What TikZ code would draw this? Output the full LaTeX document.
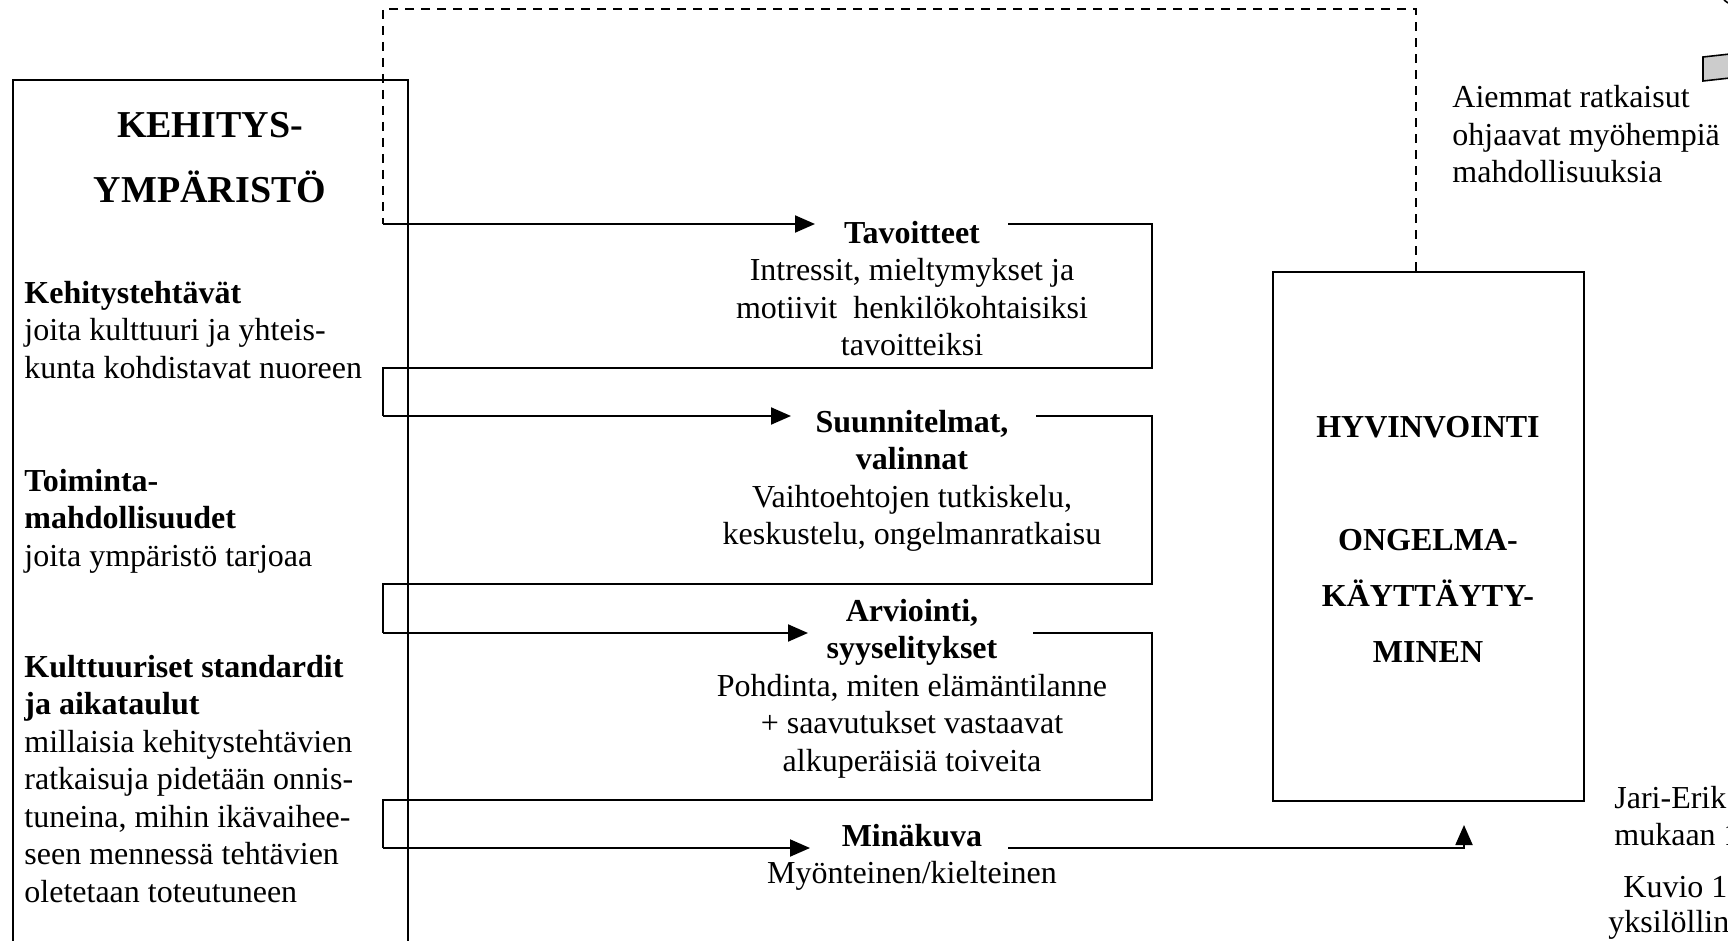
\documentclass[tikz,border=0pt]{standalone}
\usepackage{fontspec}
\setmainfont{Liberation Serif}
\usetikzlibrary{arrows.meta}
\begin{document}
\begin{tikzpicture}[x=0.5pt,y=-0.5pt,
  ln/.style={line width=1pt},
  arr/.style={line width=1pt,-{Triangle[length=10pt,width=8.5pt]}},
  dsh/.style={line width=1pt,dash pattern=on 4.5pt off 3.5pt},
  body/.style={inner sep=0pt,font=\fontsize{16}{18.75}\selectfont},
  lefttxt/.style={body,anchor=base west,align=left},
  midtxt/.style={body,anchor=base,align=center},
  bigtitle/.style={inner sep=0pt,anchor=base,align=center,font=\bfseries\fontsize{19}{32.5}\selectfont},
  hyvtxt/.style={inner sep=0pt,anchor=base,align=center,font=\bfseries\fontsize{16}{28}\selectfont}
]
\useasboundingbox (0,0) rectangle (1728,941);

% left box (anchor=base of a multi-line node is the baseline of its last line)
\draw[line width=0.9pt] (13,945) -- (13,80) -- (408,80) -- (408,945);
\node[bigtitle] (keh) at (210,203) {KEHITYS-\\YMPÄRISTÖ};
\node[lefttxt] (kt) at (24,378) {\textbf{Kehitystehtävät}\\joita kulttuuri ja yhteis-\\kunta kohdistavat nuoreen};
\node[lefttxt] (tm) at (24,566) {\textbf{Toiminta-}\\\textbf{mahdollisuudet}\\joita ympäristö tarjoaa};
\node[lefttxt] (ks) at (24,902) {\textbf{Kulttuuriset standardit}\\\textbf{ja aikataulut}\\millaisia kehitystehtävien\\ratkaisuja pidetään onnis-\\tuneina, mihin ikävaihee-\\seen mennessä tehtävien\\oletetaan toteutuneen};

% HYV box
\node[draw,line width=1pt,minimum width=155.5pt,minimum height=264.5pt,inner sep=0pt] (hyv) at (1428.5,536.5) {};
\node[hyvtxt] (hyvt) at (1428,662) {HYVINVOINTI\\[28.5pt]ONGELMA-\\KÄYTTÄYTY-\\MINEN};

% middle texts
\node[midtxt] (tav) at (912,355.5) {\textbf{Tavoitteet}\\Intressit, mieltymykset ja\\motiivit\ \ henkilökohtaisiksi\\tavoitteiksi};
\node[midtxt] (suu) at (912,544.5) {\textbf{Suunnitelmat,}\\\textbf{valinnat}\\Vaihtoehtojen tutkiskelu,\\keskustelu, ongelmanratkaisu};
\node[midtxt] (arv) at (912,771) {\textbf{Arviointi,}\\\textbf{syyselitykset}\\Pohdinta, miten elämäntilanne\\+ saavutukset vastaavat\\alkuperäisiä toiveita};
\node[midtxt] (min) at (912,883.5) {\textbf{Minäkuva}\\Myönteinen/kielteinen};

% right texts
\node[lefttxt] (aie) at (1452,183) {Aiemmat ratkaisut\\ohjaavat myöhempiä\\mahdollisuuksia};
\node[lefttxt] (jari) at (1614,845.5) {Jari-Erik\\mukaan 1};
\node[lefttxt] (kuv1) at (1623,897) {Kuvio 1.};
\node[lefttxt] (kuv2) at (1608,932) {yksilöllin};

% coordinates
\coordinate (d0) at (383,224);
\coordinate (t1) at (815,224);
\coordinate (r1) at (1008,224);
\coordinate (t2) at (791,416);
\coordinate (r2) at (1036,416);
\coordinate (t3) at (808,633);
\coordinate (r3) at (1033,633);
\coordinate (t4) at (810,848);
\coordinate (r4) at (1008,848);
\coordinate (up) at (1464,825);

% dashed feedback
\draw[dsh] (hyv.north -| 1416,0) -- (1416,9) -- (383,9) -- (d0);

% arrows and brackets
\draw[arr] (d0) -- (t1);
\draw[ln] (r1) -- (1152,224) -- (1152,368) -- (383,368) -- (383,416);
\draw[arr] (383,416) -- (t2);
\draw[ln] (r2) -- (1152,416) -- (1152,584) -- (383,584) -- (383,633);
\draw[arr] (383,633) -- (t3);
\draw[ln] (r3) -- (1152,633) -- (1152,800) -- (383,800) -- (383,848);
\draw[arr] (383,848) -- (t4);
\draw[ln] (r4) -- (1464,848);
\draw[arr] (1464,848.5) -- (up);

% cut-off shapes at top right
\filldraw[fill=gray!40,line width=0.8pt] (1730,54) -- (1703,57) -- (1703,81) -- (1730,78);
\draw[line width=0.8pt] (1724,0) -- (1728,3);
\end{tikzpicture}
\end{document}
